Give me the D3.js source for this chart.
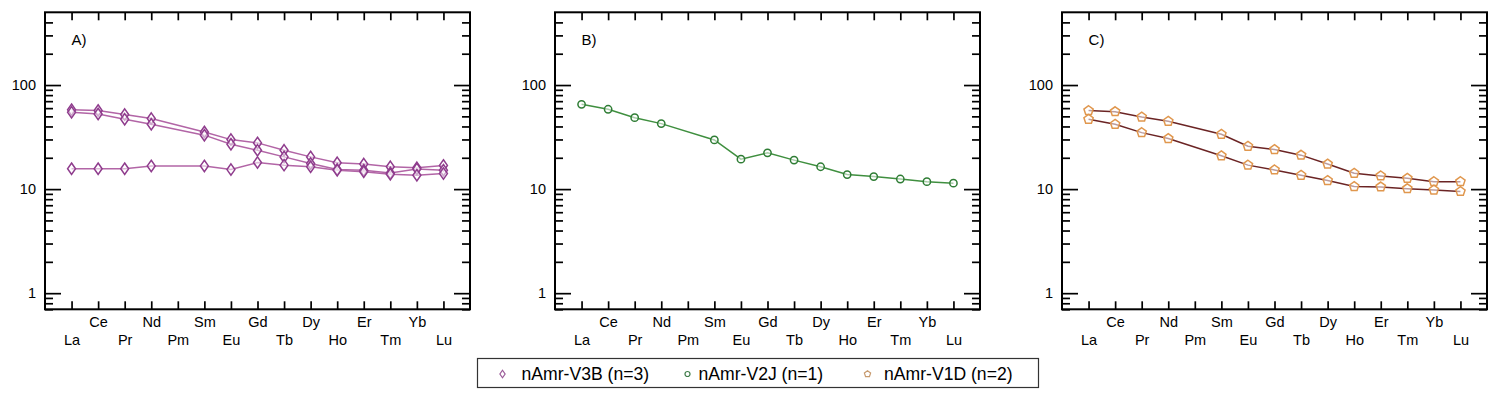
<!DOCTYPE html>
<html>
<head>
<meta charset="utf-8">
<script src="https://cdn.jsdelivr.net/npm/d3@7"></script>
<style>
  body { margin: 0; background: #fff; }
  svg { display: block; font-family: Arial, "Liberation Sans", sans-serif; }
</style>
</head>
<body>
<svg id="chart" width="1499" height="401"></svg>
<script>
// REE elements (Pm has no data)
const elements = ['La', 'Ce', 'Pr', 'Nd', 'Pm', 'Sm', 'Eu', 'Gd', 'Tb', 'Dy', 'Ho', 'Er', 'Tm', 'Yb', 'Lu'];
const yMajorTicks = [1, 10, 100];

// panel A: nAmr-V3B (n=3)
const v3bSample1 = [58, 57, 52, 47.6, null, 35.4, 29.9, 27.8, 23.6, 20.4, 17.9, 17.4, 16.4, 16.0, 16.9];
const v3bSample2 = [54.7, 52.7, 46.9, 42, null, 33, 27, 23.6, 20.4, 17.6, 15.4, 15.2, 14.3, 15.6, 15.2];
const v3bSample3 = [15.7, 15.7, 15.7, 16.7, null, 16.7, 15.4, 18.0, 17.0, 16.4, 15.2, 14.7, 13.9, 13.6, 14.1];

// panel B: nAmr-V2J (n=1)
const v2jSample1 = [65.3, 58.5, 48.6, 42.6, null, 29.7, 19.4, 22.3, 19.0, 16.4, 13.8, 13.2, 12.5, 11.8, 11.4];

// panel C: nAmr-V1D (n=2)
const v1dSample1 = [56.8, 55.5, 49.3, 44.9, null, 33.7, 25.8, 24.0, 21.2, 17.4, 14.2, 13.4, 12.7, 11.8, 11.8];
const v1dSample2 = [46.9, 42, 34.9, 30.6, null, 20.9, 17.0, 15.3, 13.6, 12.1, 10.6, 10.5, 10.1, 9.8, 9.5];

const legendLabels = ['nAmr-V3B (n=3)', 'nAmr-V2J (n=1)', 'nAmr-V1D (n=2)'];

// custom marker shapes
const diamondShape = {
    draw(ctx, size) {
        const h = Math.sqrt(size) * 0.68, w = h * 0.7;
        ctx.moveTo(0, -h); ctx.lineTo(w, 0); ctx.lineTo(0, h); ctx.lineTo(-w, 0); ctx.closePath();
    }
};
const pentagonShape = {
    draw(ctx, size) {
        const r = Math.sqrt(size) * 0.6;
        for (let i = 0; i < 5; i++) {
            const a = -Math.PI / 2 + i * 2 * Math.PI / 5;
            if (i === 0) ctx.moveTo(r * Math.cos(a), r * Math.sin(a));
            else ctx.lineTo(r * Math.cos(a), r * Math.sin(a));
        }
        ctx.closePath();
    }
};

const panels = [
    { left: 45, label: 'A)', series: [v3bSample1, v3bSample2, v3bSample3],
      shape: diamondShape, size: 70, line: '#b265a6', mark: '#8f3c8d' },
    { left: 555, label: 'B)', series: [v2jSample1],
      shape: d3.symbolCircle, size: 42, line: '#3f8f3f', mark: '#2f7d35' },
    { left: 1062, label: 'C)', series: [v1dSample1, v1dSample2],
      shape: pentagonShape, size: 66, line: '#6b2424', mark: '#e0974e' }
];

const panelTop = 12.3, panelW = 425, panelH = 297;
const svg = d3.select('#chart');

const x = d3.scaleLinear().domain([-1, elements.length]).range([0, panelW]);
const y = d3.scaleLog().domain([0.7, 500]).range([panelH, 0]);

// minor ticks: 2..9 of each decade inside the domain
const yMinorTicks = [];
[0.1, 1, 10, 100].forEach(dec => {
    for (let k = 2; k <= 9; k++) {
        const v = dec * k;
        if (v > 0.7 && v < 500 && !yMajorTicks.includes(v)) yMinorTicks.push(v);
    }
});

const idx = d3.range(elements.length);
const oddIdx = idx.filter(i => i % 2 === 1);
const evenIdx = idx.filter(i => i % 2 === 0);

function styleAxis(g) {
    g.select('.domain').remove();
    g.selectAll('.tick line').attr('stroke', '#000').attr('stroke-width', 1.7);
    g.selectAll('.tick text').attr('fill', '#000').style('font-size', '14.5px');
}

panels.forEach(p => {
    const g = svg.append('g').attr('transform', `translate(${p.left},${panelTop})`);

    // x tick marks (bottom and top, inward)
    g.append('g').attr('transform', `translate(0,${panelH})`)
        .call(d3.axisBottom(x).tickValues(idx).tickSize(-8).tickFormat(''))
        .call(styleAxis);
    g.append('g')
        .call(d3.axisTop(x).tickValues(idx).tickSize(-8).tickFormat(''))
        .call(styleAxis);

    // element labels, two staggered rows
    g.append('g').attr('transform', `translate(0,${panelH})`)
        .call(d3.axisBottom(x).tickValues(oddIdx).tickSize(0).tickPadding(7).tickFormat(i => elements[i]))
        .call(styleAxis);
    g.append('g').attr('transform', `translate(0,${panelH})`)
        .call(d3.axisBottom(x).tickValues(evenIdx).tickSize(0).tickPadding(25).tickFormat(i => elements[i]))
        .call(styleAxis);

    // y ticks, left and right
    g.append('g')
        .call(d3.axisLeft(y).tickValues(yMajorTicks).tickSize(-16).tickPadding(9).tickFormat(d3.format('d')))
        .call(styleAxis);
    g.append('g')
        .call(d3.axisLeft(y).tickValues(yMinorTicks).tickSize(-8).tickFormat(''))
        .call(styleAxis);
    g.append('g').attr('transform', `translate(${panelW},0)`)
        .call(d3.axisRight(y).tickValues(yMajorTicks).tickSize(-16).tickFormat(''))
        .call(styleAxis);
    g.append('g').attr('transform', `translate(${panelW},0)`)
        .call(d3.axisRight(y).tickValues(yMinorTicks).tickSize(-8).tickFormat(''))
        .call(styleAxis);

    // frame
    g.append('rect')
        .attr('width', panelW).attr('height', panelH)
        .attr('fill', 'none').attr('stroke', '#000').attr('stroke-width', 2);

    g.append('text')
        .attr('x', x(0)).attr('y', 32.5)
        .style('font-size', '15px')
        .text(p.label);

    const line = d3.line().x(d => x(d.i)).y(d => y(d.v));
    const symbol = d3.symbol().type(p.shape).size(p.size);

    p.series.forEach(vals => {
        const pts = vals.map((v, i) => ({ i, v })).filter(d => d.v != null);
        g.append('path')
            .datum(pts)
            .attr('fill', 'none')
            .attr('stroke', p.line)
            .attr('stroke-width', 1.5)
            .attr('d', line);
    });
    p.series.forEach(vals => {
        const pts = vals.map((v, i) => ({ i, v })).filter(d => d.v != null);
        g.selectAll(null)
            .data(pts)
            .enter()
            .append('path')
            .attr('transform', d => `translate(${x(d.i)},${y(d.v)})`)
            .attr('d', symbol)
            .attr('fill', '#fff')
            .attr('fill-opacity', 0.55)
            .attr('stroke', p.mark)
            .attr('stroke-width', 1.5);
    });
});

// legend
const legend = svg.append('g');
legend.append('rect')
    .attr('x', 477.5).attr('y', 358.5)
    .attr('width', 561).attr('height', 29)
    .attr('fill', '#fff').attr('stroke', '#333').attr('stroke-width', 1.2);

const legendItems = [
    { mx: 502.5, tx: 521.5, shape: diamondShape, size: 30, color: '#9a5a98' },
    { mx: 687.5, tx: 698.5, shape: d3.symbolCircle, size: 20, color: '#3f7d4a' },
    { mx: 867.5, tx: 884, shape: pentagonShape, size: 30, color: '#c79a6e' }
];
legendItems.forEach((it, k) => {
    legend.append('path')
        .attr('transform', `translate(${it.mx},374)`)
        .attr('d', d3.symbol().type(it.shape).size(it.size))
        .attr('fill', 'none')
        .attr('stroke', it.color)
        .attr('stroke-width', 1.2);
    legend.append('text')
        .attr('x', it.tx).attr('y', 380)
        .style('font-size', '17.6px')
        .text(legendLabels[k]);
});
</script>
</body>
</html>
